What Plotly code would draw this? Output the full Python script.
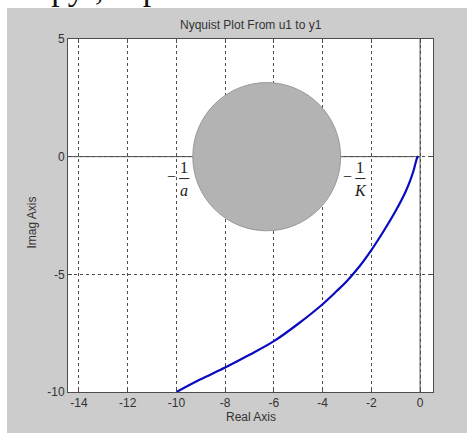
import plotly.graph_objects as go

# Nyquist curve
re_vals = [-10.0, -9.03, -8.0, -7.0, -6.0, -5.0, -4.0, -3.42, -3.0, -2.5, -2.0, -1.5, -1.0, -0.6, -0.4, -0.27, -0.18, -0.12, -0.07]
im_vals = [-10.0, -9.47, -8.96, -8.42, -7.84, -7.1, -6.27, -5.71, -5.28, -4.68, -3.97, -3.17, -2.3, -1.5, -1.0, -0.6, -0.25, -0.05, 0.01]

x_ticks = [-14, -12, -10, -8, -6, -4, -2, 0]
y_ticks = [-10, -5, 0, 5]
x_range = [-14.45, 0.53]
y_range = [-10, 5]

# circle extents (-1/a ... -1/K)
circ_x = [-9.33, -3.26]
circ_y = [-3.15, 3.15]

axc = "#4d4d4d"
font = "Liberation Sans, Arial, sans-serif"

fig = go.Figure()

# solid axes through origin
fig.add_trace(go.Scatter(x=[x_range[0], 0], y=[0, 0], mode="lines",
                         line=dict(color=axc, width=1), hoverinfo="skip", showlegend=False))
fig.add_trace(go.Scatter(x=[0, 0], y=y_range, mode="lines",
                         line=dict(color=axc, width=1), hoverinfo="skip", showlegend=False))
# Nyquist curve
fig.add_trace(go.Scatter(x=re_vals, y=im_vals, mode="lines",
                         line=dict(color="#0a0ac0", width=2.2, shape="spline", smoothing=1.0),
                         hoverinfo="skip", showlegend=False))

shapes = [
    # white strips outside gray figure area
    dict(type="rect", xref="paper", yref="paper", x0=-0.25, x1=1.2, y0=1.0 + 31/353, y1=1.2,
         fillcolor="white", line=dict(width=0), layer="below"),
    dict(type="rect", xref="paper", yref="paper", x0=-0.25, x1=-61/365, y0=-0.2, y1=1.2,
         fillcolor="white", line=dict(width=0), layer="below"),
    # gray circle
    dict(type="circle", xref="x", yref="y", x0=circ_x[0], x1=circ_x[1], y0=circ_y[0], y1=circ_y[1],
         fillcolor="#b3b3b3", line=dict(color="#8c8c8c", width=0.8), layer="above"),
]

# fraction labels
def frac_label(xc, denom):
    shapes.append(dict(type="line", xref="x", yref="y", x0=xc - 0.2, x1=xc + 0.22, y0=-0.93, y1=-0.93,
                       line=dict(color="#222", width=1), layer="above"))
    anns = [
        dict(x=xc - 0.5, y=-0.85, text="−", showarrow=False, xref="x", yref="y",
             font=dict(family="Liberation Serif, serif", size=16, color="#222")),
        dict(x=xc + 0.01, y=-0.45, text="1", showarrow=False, xref="x", yref="y",
             font=dict(family="Liberation Serif, serif", size=16, color="#222")),
        dict(x=xc + 0.01, y=-1.45, text="<i>%s</i>" % denom, showarrow=False, xref="x", yref="y",
             font=dict(family="Liberation Serif, serif", size=16, color="#222")),
    ]
    return anns

annotations = []
annotations += frac_label(-9.69, "a")
annotations += frac_label(-2.46, "K")

annotations.append(dict(x=0.5, y=1.0 + 14/353, xref="paper", yref="paper", text="Nyquist Plot From u1 to y1",
                        showarrow=False, yanchor="middle",
                        font=dict(family=font, size=12, color="#333")))
annotations.append(dict(x=0.5, y=-25/353, xref="paper", yref="paper", text="Real Axis",
                        showarrow=False, yanchor="middle",
                        font=dict(family=font, size=12, color="#333")))
annotations.append(dict(x=-36/365, y=0.48, xref="paper", yref="paper", text="Imag Axis",
                        showarrow=False, textangle=-90, xanchor="center",
                        font=dict(family=font, size=12, color="#333")))
# cropped scanned text line above the chart
annotations.append(dict(x=0.5, y=1.0 + 51/353, xref="paper", yref="paper",
                        text="н круг, ограниченный понятными",
                        showarrow=False, yanchor="middle", xanchor="center",
                        font=dict(family="Liberation Serif, serif", size=34, color="#111")))

fig.update_layout(
    width=467, height=433,
    margin=dict(l=68, r=34, t=39, b=41),
    paper_bgcolor="#cccccc",
    plot_bgcolor="white",
    shapes=shapes,
    annotations=annotations,
    showlegend=False,
)
axis_common = dict(
    showline=True, linecolor=axc, linewidth=1, mirror="ticks",
    ticks="inside", ticklen=4, tickcolor=axc,
    showgrid=True, gridcolor=axc, gridwidth=1, griddash="dot",
    zeroline=False,
    tickfont=dict(family=font, size=12, color="#333"),
)
fig.update_xaxes(range=x_range, tickvals=x_ticks, ticktext=[str(v) for v in x_ticks], **axis_common)
fig.update_yaxes(range=y_range, tickvals=y_ticks, ticktext=[str(v) for v in y_ticks], **axis_common)

fig.write_html("out.html")
